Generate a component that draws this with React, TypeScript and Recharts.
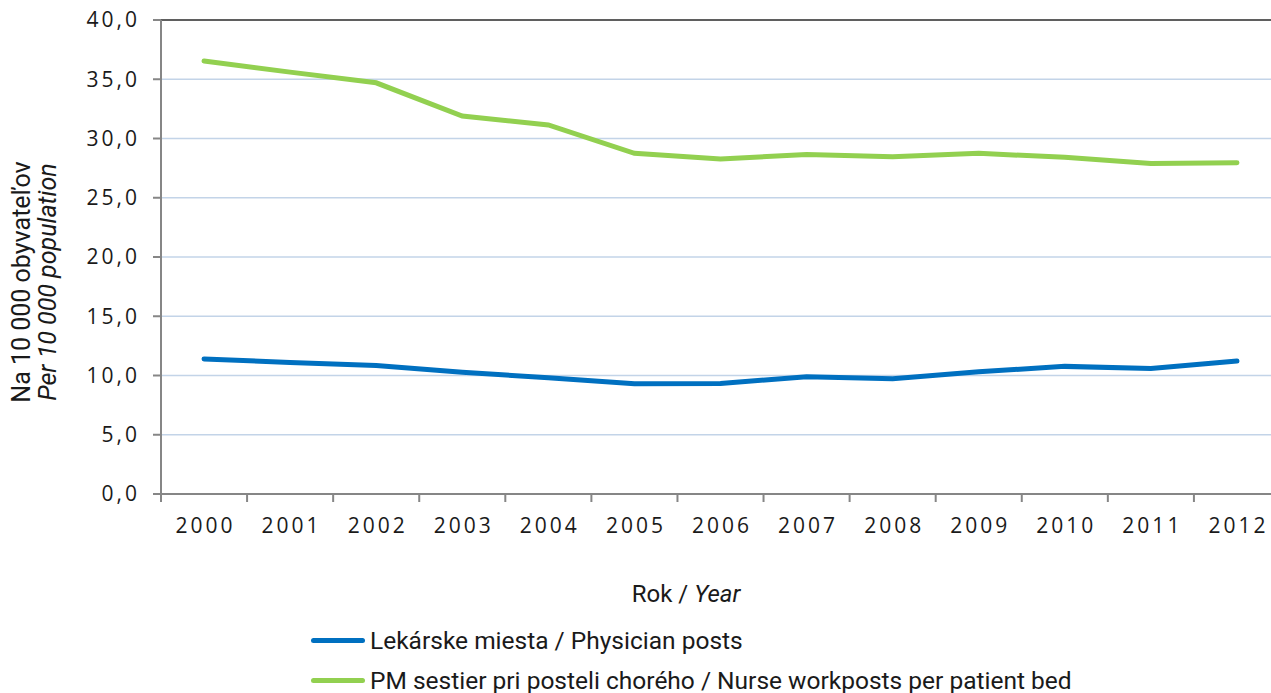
import { LineChart, Line, XAxis, YAxis, CartesianGrid, ReferenceLine } from 'recharts';

const YEARS = ['2000', '2001', '2002', '2003', '2004', '2005', '2006', '2007', '2008', '2009', '2010', '2011', '2012'];
const PHYSICIAN_POSTS = [11.4, 11.1, 10.85, 10.27, 9.82, 9.31, 9.33, 9.9, 9.73, 10.32, 10.77, 10.6, 11.22];
const NURSE_POSTS = [36.54, 35.6, 34.7, 31.9, 31.14, 28.75, 28.27, 28.66, 28.47, 28.75, 28.41, 27.9, 27.96];
const Y_TICKS = [0, 5, 10, 15, 20, 25, 30, 35, 40];

const PHYSICIAN_NAME = 'Lekárske miesta / Physician posts';
const NURSE_NAME = 'PM sestier pri posteli chorého / Nurse workposts per patient bed';

const BLUE = '#0070c0';
const GREEN = '#92d050';
const AXIS = '#868686';
const TEXT = '#1a1a1a';

const data = YEARS.map((year, i) => ({
  i,
  year,
  physician: PHYSICIAN_POSTS[i],
  nurse: NURSE_POSTS[i],
}));

// Excel style: labels in the middle of a category, tick marks between them
function YearTick(props: any) {
  const { x, y, payload, width } = props;
  const half = (width || 1119) / YEARS.length / 2;
  const last = payload.value === YEARS.length - 1;
  return (
    <g>
      <line x1={x - half} y1={y} x2={x - half} y2={y + 8} stroke={AXIS} strokeWidth={2} />
      {last && <line x1={x + half} y1={y} x2={x + half} y2={y + 8} stroke={AXIS} strokeWidth={2} />}
      <text x={x + 1.5} y={y + 39} textAnchor="middle" fill={TEXT} fontSize={21} letterSpacing={3}>
        {YEARS[payload.value]}
      </text>
    </g>
  );
}

function LegendRow({ color, label }: { color: string; label: string }) {
  return (
    <div style={{ display: 'flex', alignItems: 'center', height: 40 }}>
      <div style={{ width: 54, height: 5, borderRadius: 3, background: color, marginLeft: 3, marginRight: 5 }} />
      <span style={{ fontFamily: 'Roboto, sans-serif', fontSize: 24.5, color: TEXT }}>{label}</span>
    </div>
  );
}

export default function App() {
  return (
    <div
      style={{
        position: 'absolute', left: 0, top: 0, width: 1271, height: 693,
        overflow: 'hidden', background: '#fff', fontFamily: '"Open Sans", sans-serif',
      }}
    >
      <LineChart width={1300} height={693} data={data} margin={{ top: 20, right: 20, bottom: 0, left: 0 }}>
        <CartesianGrid vertical={false} stroke="#c3d4e8" strokeWidth={1.5} />
        <ReferenceLine y={40} stroke="#5f5f5f" strokeWidth={2} />
        <XAxis
          dataKey="i"
          type="number"
          domain={[-0.5, 12.5]}
          ticks={YEARS.map((_, i) => i)}
          interval={0}
          height={199}
          tickLine={false}
          tickSize={0}
          tickMargin={0}
          axisLine={{ stroke: AXIS, strokeWidth: 2 }}
          tick={<YearTick />}
          label={{
            content: () => (
              <text x={686} y={602} textAnchor="middle" fill={TEXT} fontSize={24} fontFamily="Roboto, sans-serif">
                Rok / <tspan fontStyle="italic">Year</tspan>
              </text>
            ),
          }}
        />
        <YAxis
          width={161}
          domain={[0, 40]}
          ticks={Y_TICKS}
          interval={0}
          tickFormatter={(v: number) => v.toFixed(1).replace('.', ',')}
          tickSize={8}
          tickMargin={13}
          tickLine={{ stroke: AXIS, strokeWidth: 2 }}
          axisLine={{ stroke: AXIS, strokeWidth: 2 }}
          tick={{ fill: TEXT, fontSize: 21, letterSpacing: 3 }}
          label={{
            content: () => (
              <g fill={TEXT} fontSize={25} fontFamily="Roboto, sans-serif">
                <text transform="translate(30 282) rotate(-90)" textAnchor="middle">
                  Na 10 000 obyvateľov
                </text>
                <text transform="translate(56 282) rotate(-90)" textAnchor="middle" fontStyle="italic">
                  Per 10 000 population
                </text>
              </g>
            ),
          }}
        />
        <Line
          type="linear"
          dataKey="physician"
          name={PHYSICIAN_NAME}
          stroke={BLUE}
          strokeWidth={5}
          strokeLinecap="round"
          dot={false}
          isAnimationActive={false}
        />
        <Line
          type="linear"
          dataKey="nurse"
          name={NURSE_NAME}
          stroke={GREEN}
          strokeWidth={5}
          strokeLinecap="round"
          dot={false}
          isAnimationActive={false}
        />
      </LineChart>
      <div style={{ position: 'absolute', left: 308, top: 620 }}>
        <LegendRow color={BLUE} label={PHYSICIAN_NAME} />
        <LegendRow color={GREEN} label={NURSE_NAME} />
      </div>
    </div>
  );
}
